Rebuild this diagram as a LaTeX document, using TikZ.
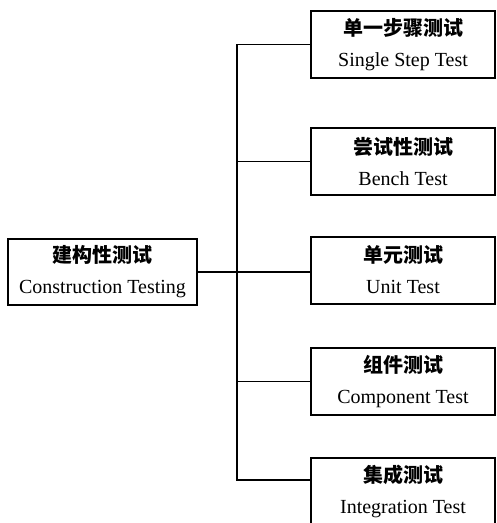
\documentclass[tikz,border=0pt]{standalone}
\usepackage{fontspec}
\setmainfont{Liberation Serif}
\newfontfamily\cjk{Noto Sans CJK SC}
\begin{document}
\begin{tikzpicture}[x=1pt,y=-1pt,
  box/.style={draw, line width=2pt, inner sep=0pt, align=center,
    minimum height=67pt, font=\fontsize{20}{31}\selectfont},
  child/.style={box, minimum width=184pt},
  conn/.style={line width=1.2pt}]
\clip (0,0) rectangle (497,523);
\fill[white] (0,0) rectangle (497,523);
\node[box, minimum width=189pt, minimum height=66pt] (root) at (102.5,272) {{\cjk\bfseries 建构性测试}\\Construction Testing};
\node[child] (single) at (403,44.5) {{\cjk\bfseries 单一步骤测试}\\Single Step Test};
\node[child] (bench) at (403,161.5) {{\cjk\bfseries 尝试性测试}\\Bench Test};
\node[child] (unit) at (403,270) {{\cjk\bfseries 单元测试}\\Unit Test};
\node[child] (comp) at (403,381.5) {{\cjk\bfseries 组件测试}\\Component Test};
\node[child] (integ) at (403,491.5) {{\cjk\bfseries 集成测试}\\Integration Test};
\coordinate (bx) at (237,0);
\draw[conn] (single.west) -- (bx |- single.west) -- (bx |- 0,480) -- ([yshift=11.5pt]integ.west);
\draw[conn] (bench.west) -- (bx |- bench.west);
\draw[conn] (root.east) -- (unit.west |- root.east);
\draw[conn] (comp.west) -- (bx |- comp.west);
\end{tikzpicture}
\end{document}
